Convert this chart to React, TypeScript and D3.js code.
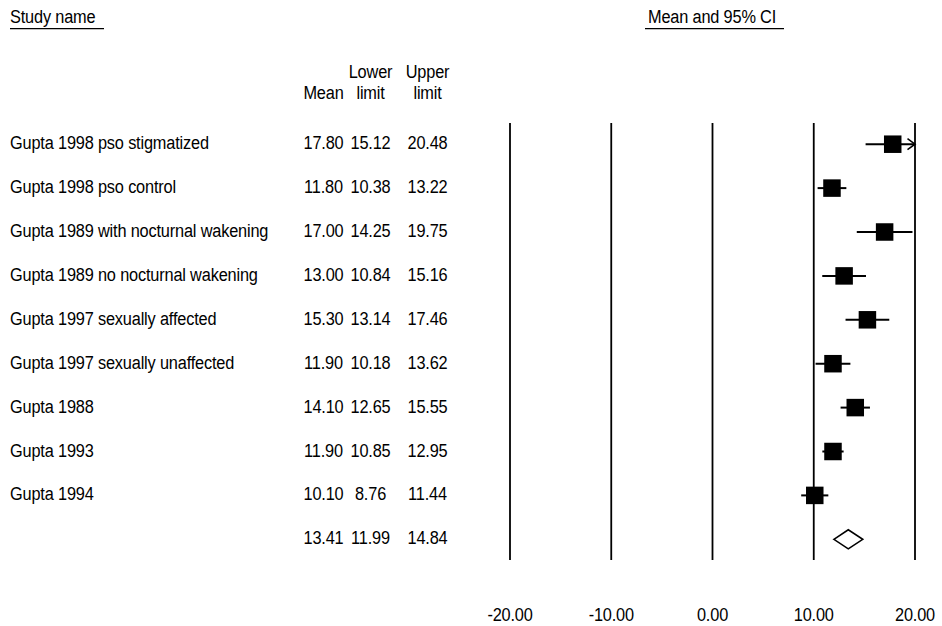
import React from "react";
import * as d3 from "d3";

const studies = [
  "Gupta 1998 pso stigmatized",
  "Gupta 1998 pso control",
  "Gupta 1989 with nocturnal wakening",
  "Gupta 1989 no nocturnal wakening",
  "Gupta 1997 sexually affected",
  "Gupta 1997 sexually unaffected",
  "Gupta 1988",
  "Gupta 1993",
  "Gupta 1994",
];
const means = [17.8, 11.8, 17.0, 13.0, 15.3, 11.9, 14.1, 11.9, 10.1];
const lowers = [15.12, 10.38, 14.25, 10.84, 13.14, 10.18, 12.65, 10.85, 8.76];
const uppers = [20.48, 13.22, 19.75, 15.16, 17.46, 13.62, 15.55, 12.95, 11.44];
const summary = { mean: 13.41, lower: 11.99, upper: 14.84 };
const axisTicks = [-20, -10, 0, 10, 20];

const W = 942;
const H = 626;
const FONT = "'Liberation Sans', Arial, sans-serif";
const SX = 0.86;

function T({ x, y, anchor = "start", children }: any) {
  return (
    <text
      transform={`translate(${x},${y}) scale(${SX},1)`}
      textAnchor={anchor}
      fontFamily={FONT}
      fontSize={19}
      letterSpacing={-0.2}
      fill="#000"
    >
      {children}
    </text>
  );
}

export default function App() {
  const x = d3.scaleLinear().domain([-20, 20]).range([510, 915]);
  const rows = d3.range(studies.length + 1);
  const y = d3.scalePoint<number>().domain(rows).range([144.2, 539.3]);
  const f = (v: number) => d3.format(".2f")(v).replace("\u2212", "-");
  const colMean = 323.5;
  const colLow = 370.5;
  const colUp = 427.5;
  const box = 17.5;
  const [x0, x1] = x.range();
  const clip = (v: number) => Math.max(x0, Math.min(x1, x(v)));
  const sy = y(studies.length)!;

  return (
    <svg
      width={W}
      height={H}
      style={{ position: "absolute", left: 0, top: 0, background: "#fff" }}
    >
      <rect width={W} height={H} fill="#fff" />
      {/* headers */}
      <T x={10} y={23}>Study name</T>
      <line x1={10} x2={104} y1={28.7} y2={28.7} stroke="#000" strokeWidth={1.2} />
      <T x={648} y={23}>Mean and 95% CI</T>
      <line x1={645} x2={784} y1={28.7} y2={28.7} stroke="#000" strokeWidth={1.2} />
      <T x={colLow} y={78} anchor="middle">Lower</T>
      <T x={colUp} y={78} anchor="middle">Upper</T>
      <T x={colMean} y={99} anchor="middle">Mean</T>
      <T x={colLow} y={99} anchor="middle">limit</T>
      <T x={colUp} y={99} anchor="middle">limit</T>

      {/* vertical reference lines */}
      {axisTicks.map((t) => (
        <line
          key={t}
          x1={x(t)}
          x2={x(t)}
          y1={123}
          y2={560}
          stroke="#000"
          strokeWidth={1.8}
        />
      ))}
      {axisTicks.map((t) => (
        <T key={"l" + t} x={x(t)} y={621} anchor="middle">
          {f(t)}
        </T>
      ))}

      {/* study rows */}
      {studies.map((s, i) => {
        const cy = y(i)!;
        const hiClipped = uppers[i] > 20;
        const loClipped = lowers[i] < -20;
        return (
          <g key={s}>
            <T x={10} y={cy + 5}>{s}</T>
            <T x={colMean} y={cy + 5} anchor="middle">{f(means[i])}</T>
            <T x={colLow} y={cy + 5} anchor="middle">{f(lowers[i])}</T>
            <T x={colUp} y={cy + 5} anchor="middle">{f(uppers[i])}</T>
            <line
              x1={clip(lowers[i])}
              x2={clip(uppers[i])}
              y1={cy}
              y2={cy}
              stroke="#000"
              strokeWidth={2}
            />
            {hiClipped && (
              <path
                d={`M${x1 - 7.5},${cy - 5.5}L${x1},${cy}L${x1 - 7.5},${cy + 5.5}`}
                fill="none"
                stroke="#000"
                strokeWidth={1.6}
              />
            )}
            {loClipped && (
              <path
                d={`M${x0 + 7.5},${cy - 5.5}L${x0},${cy}L${x0 + 7.5},${cy + 5.5}`}
                fill="none"
                stroke="#000"
                strokeWidth={1.6}
              />
            )}
            <rect
              x={x(means[i]) - box / 2}
              y={cy - box / 2}
              width={box}
              height={box}
              fill="#000"
            />
          </g>
        );
      })}

      {/* summary */}
      <T x={colMean} y={sy + 5} anchor="middle">{f(summary.mean)}</T>
      <T x={colLow} y={sy + 5} anchor="middle">{f(summary.lower)}</T>
      <T x={colUp} y={sy + 5} anchor="middle">{f(summary.upper)}</T>
      <path
        d={`M${x(summary.lower)},${sy}L${x(summary.mean)},${sy - 9.5}L${x(summary.upper)},${sy}L${x(summary.mean)},${sy + 9.5}Z`}
        fill="#fff"
        stroke="#000"
        strokeWidth={1.6}
      />
    </svg>
  );
}
